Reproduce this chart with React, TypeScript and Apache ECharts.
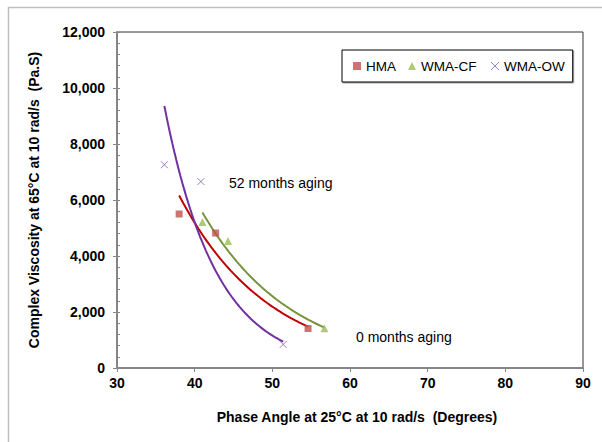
import React, { useEffect, useRef } from "react";
import * as echarts from "echarts";

// Measured data (phase angle in degrees, complex viscosity in Pa.s)
const hmaX = [38.0, 42.7, 54.6];
const hmaY = [5500, 4820, 1410];
const cfX = [41.0, 44.3, 56.7];
const cfY = [5210, 4540, 1420];
const owX = [36.1, 40.8, 51.4];
const owY = [7260, 6660, 840];

const seriesNames = ["HMA", "WMA-CF", "WMA-OW"];
const xTicks = { min: 30, max: 90, interval: 10 };
const yTicks = { min: 0, max: 12000, interval: 2000, minor: 400 };
const annotations = ["52 months aging", "0 months aging"];

const CROSS = "path://M0,0L10,10M10,0L0,10";

// Exponential trendline (least squares on ln y), like a spreadsheet trendline
function expTrend(xs: number[], ys: number[], steps = 60): number[][] {
  const n = xs.length;
  const ls = ys.map((y) => Math.log(y));
  const mx = xs.reduce((a, b) => a + b, 0) / n;
  const ml = ls.reduce((a, b) => a + b, 0) / n;
  let sxy = 0;
  let sxx = 0;
  for (let i = 0; i < n; i++) {
    sxy += (xs[i] - mx) * (ls[i] - ml);
    sxx += (xs[i] - mx) * (xs[i] - mx);
  }
  const b = sxy / sxx;
  const lnA = ml - b * mx;
  const x0 = Math.min(...xs);
  const x1 = Math.max(...xs);
  const out: number[][] = [];
  for (let i = 0; i <= steps; i++) {
    const x = x0 + ((x1 - x0) * i) / steps;
    out.push([x, Math.exp(lnA + b * x)]);
  }
  return out;
}

const zip = (xs: number[], ys: number[]) => xs.map((x, i) => [x, ys[i]]);

export default function App() {
  const ref = useRef<HTMLDivElement>(null);

  useEffect(() => {
    if (!ref.current) return;
    const chart = echarts.init(ref.current, undefined, { renderer: "svg" });
    const font = "Arial, 'Liberation Sans', sans-serif";
    const axisGray = "#868686";

    chart.setOption({
      animation: false,
      backgroundColor: "#ffffff",
      textStyle: { fontFamily: font },
      grid: {
        left: 117,
        right: 19,
        top: 32,
        bottom: 74,
        show: true,
        borderColor: "#333333",
        borderWidth: 1,
        backgroundColor: "transparent",
      },
      legend: {
        left: 342,
        top: 50,
        padding: [9, 8, 9, 11],
        itemGap: 12,
        itemWidth: 8,
        itemHeight: 8,
        borderColor: "#000000",
        borderWidth: 1,
        backgroundColor: "#ffffff",
        shadowColor: "rgba(0,0,0,0.35)",
        shadowOffsetX: 1,
        shadowOffsetY: 1,
        shadowBlur: 1,
        textStyle: { fontSize: 13.5, color: "#000000", fontFamily: font },
        data: [
          { name: seriesNames[0], icon: "rect" },
          { name: seriesNames[1], icon: "triangle" },
          {
            name: seriesNames[2],
            icon: CROSS,
            itemStyle: { color: "none", borderColor: "#8064A2", borderWidth: 1 },
          },
        ],
      },
      xAxis: {
        type: "value",
        min: xTicks.min,
        max: xTicks.max,
        interval: xTicks.interval,
        name: "Phase Angle at 25°C at 10 rad/s  (Degrees)",
        nameLocation: "middle",
        nameGap: 42,
        nameTextStyle: {
          fontSize: 14,
          fontWeight: "bold",
          color: "#000000",
          fontFamily: font,
          padding: [0, 0, 0, 14],
        },
        axisLine: { show: true, lineStyle: { color: axisGray, width: 2 } },
        axisTick: { show: true, inside: false, length: 4, lineStyle: { color: axisGray, width: 1 } },
        axisLabel: {
          fontSize: 14,
          fontWeight: "bold",
          color: "#000000",
          fontFamily: font,
          margin: 8,
        },
        splitLine: { show: false },
      },
      yAxis: [
        {
          type: "value",
          position: "left",
          min: yTicks.min,
          max: yTicks.max,
          interval: yTicks.interval,
          name: "Complex Viscosity at 65°C at 10 rad/s  (Pa.S)",
          nameLocation: "middle",
          nameGap: 76,
          nameTextStyle: {
            fontSize: 14,
            fontWeight: "bold",
            color: "#000000",
            fontFamily: font,
          },
          axisLine: { show: true, lineStyle: { color: axisGray, width: 2 } },
          axisTick: { show: true, inside: false, length: 4, lineStyle: { color: axisGray, width: 1 } },
          axisLabel: {
            fontSize: 14,
            fontWeight: "bold",
            color: "#000000",
            fontFamily: font,
            margin: 12,
            formatter: (v: number) => v.toLocaleString("en-US"),
          },
          splitLine: { show: false },
        },
        {
          type: "value",
          position: "left",
          min: yTicks.min,
          max: yTicks.max,
          interval: yTicks.minor,
          axisLine: { show: false },
          axisTick: { show: true, inside: true, length: 3, lineStyle: { color: axisGray, width: 1 } },
          axisLabel: { show: false },
          splitLine: { show: false },
        },
      ],
      graphic: [
        {
          type: "rect",
          silent: true,
          z: -10,
          shape: { x: 8.5, y: 7.5, width: 700, height: 500 },
          style: { fill: "none", stroke: "#BFBFBF", lineWidth: 1.5 },
        },
        {
          type: "text",
          x: 229,
          y: 183,
          style: {
            text: annotations[0],
            fill: "#000000",
            font: `14px ${font}`,
            verticalAlign: "middle",
          },
        },
        {
          type: "text",
          x: 356,
          y: 337,
          style: {
            text: annotations[1],
            fill: "#000000",
            font: `14px ${font}`,
            verticalAlign: "middle",
          },
        },
      ],
      series: [
        {
          name: "HMA trend",
          type: "line",
          data: expTrend(hmaX, hmaY),
          showSymbol: false,
          symbol: "none",
          smooth: false,
          lineStyle: { color: "#C00000", width: 2 },
          z: 2,
          silent: true,
        },
        {
          name: "WMA-CF trend",
          type: "line",
          data: expTrend(cfX, cfY),
          showSymbol: false,
          symbol: "none",
          lineStyle: { color: "#77933C", width: 2 },
          z: 2,
          silent: true,
        },
        {
          name: "WMA-OW trend",
          type: "line",
          data: expTrend(owX, owY),
          showSymbol: false,
          symbol: "none",
          lineStyle: { color: "#7030A0", width: 2 },
          z: 2,
          silent: true,
        },
        {
          name: seriesNames[0],
          type: "scatter",
          data: zip(hmaX, hmaY),
          symbol: "rect",
          symbolSize: 7,
          itemStyle: { color: "#C0504D" },
          z: 3,
        },
        {
          name: seriesNames[1],
          type: "scatter",
          data: zip(cfX, cfY),
          symbol: "triangle",
          symbolSize: 8,
          itemStyle: { color: "#9BBB59" },
          z: 3,
        },
        {
          name: seriesNames[2],
          type: "scatter",
          data: zip(owX, owY),
          symbol: CROSS,
          symbolSize: 7,
          itemStyle: { color: "none", borderColor: "#8064A2", borderWidth: 1 },
          z: 3,
        },
      ],
    });

    return () => chart.dispose();
  }, []);

  return (
    <div
      ref={ref}
      style={{ position: "absolute", left: 0, top: 0, width: 602, height: 442 }}
    />
  );
}
